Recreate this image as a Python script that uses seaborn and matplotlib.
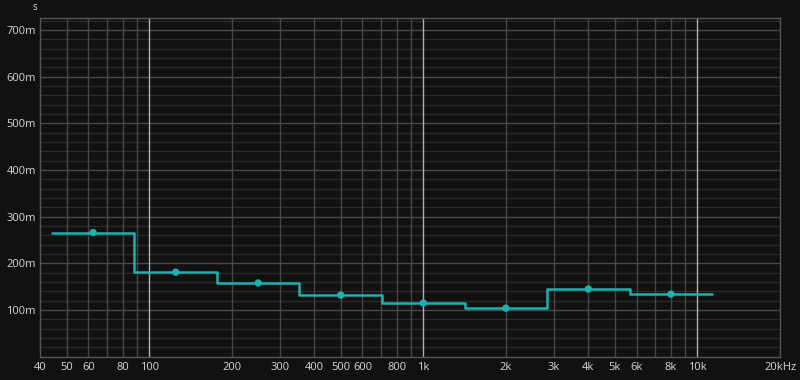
import numpy as np
import pandas as pd
import matplotlib
matplotlib.use("Agg")
import matplotlib.pyplot as plt
import seaborn as sns
from matplotlib.ticker import FixedLocator, NullFormatter

# ---- data ----
band_centers = [62.5, 125, 250, 500, 1000, 2000, 4000, 8000]   # Hz
rt_values = [0.266, 0.181, 0.158, 0.132, 0.115, 0.104, 0.145, 0.134]  # s
x_tick_vals = [40, 50, 60, 80, 100, 200, 300, 400, 500, 600, 800,
               1000, 2000, 3000, 4000, 5000, 6000, 8000, 10000, 20000]
x_tick_labels = ["40", "50", "60", "80", "100", "200", "300", "400", "500", "600", "800",
                 "1k", "2k", "3k", "4k", "5k", "6k", "8k", "10k", "20kHz"]
y_tick_vals = [0.1, 0.2, 0.3, 0.4, 0.5, 0.6, 0.7]
y_tick_labels = ["100m", "200m", "300m", "400m", "500m", "600m", "700m"]

BG = "#111111"
LINE = "#1fb0b0"

sns.set_theme(style="dark")
plt.rcParams["font.family"] = ["Open Sans", "DejaVu Sans"]

# step edges (octave bands)
centers = np.array(band_centers, dtype=float)
edges = np.concatenate([centers / np.sqrt(2), [centers[-1] * np.sqrt(2)]])
step_y = list(rt_values) + [rt_values[-1]]
step_df = pd.DataFrame({"f": edges, "rt": step_y})
pt_df = pd.DataFrame({"f": centers, "rt": rt_values})

fig = plt.figure(figsize=(8, 3.8), dpi=100, facecolor=BG)
ax = fig.add_axes([40 / 800, 1 - 356.7 / 380, 740 / 800, (356.7 - 18) / 380])
ax.set_facecolor(BG)
ax.set_xscale("log")
ax.set_xlim(40, 20000)
ax.set_ylim(0, 0.7257)

# grid: horizontal
for v in np.arange(0.02, 0.73, 0.02):
    major = abs(round(v * 10) - v * 10) < 1e-6
    ax.axhline(v, color="#4a4a4a" if major else "#2a2a2a", lw=1.0, zorder=1)
# grid: vertical
minor_v = [m * 10 ** d for d in range(1, 5) for m in range(2, 10)]
for v in minor_v:
    if 40 < v < 20000:
        ax.axvline(v, color="#474747", lw=1.0, zorder=1)
for v in [100, 1000, 10000]:
    ax.axvline(v, color="#b0b0b0", lw=1.0, zorder=2)

sns.lineplot(data=step_df, x="f", y="rt", drawstyle="steps-post", color=LINE,
             lw=1.8, estimator=None, sort=False, ax=ax, zorder=4)
sns.scatterplot(data=pt_df, x="f", y="rt", color=LINE, s=28, edgecolor="none",
                ax=ax, zorder=5)

ax.xaxis.set_major_locator(FixedLocator(x_tick_vals))
ax.xaxis.set_minor_locator(FixedLocator([]))
ax.set_xticklabels(x_tick_labels)
ax.set_yticks(y_tick_vals)
ax.set_yticklabels(y_tick_labels)
ax.tick_params(axis="both", length=0, labelsize=8, colors="#d8d8d8")
ax.tick_params(axis="x", pad=4)
ax.tick_params(axis="y", pad=3)
ax.set_xlabel("")
ax.set_ylabel("")
ax.grid(False)
for s in ax.spines.values():
    s.set_color("#555555")
    s.set_linewidth(1.0)

fig.text(35 / 800, 1 - 8 / 380, "s", color="#d8d8d8", fontsize=7,
         ha="center", va="center")

fig.savefig("out.png", dpi=100, facecolor=BG)
